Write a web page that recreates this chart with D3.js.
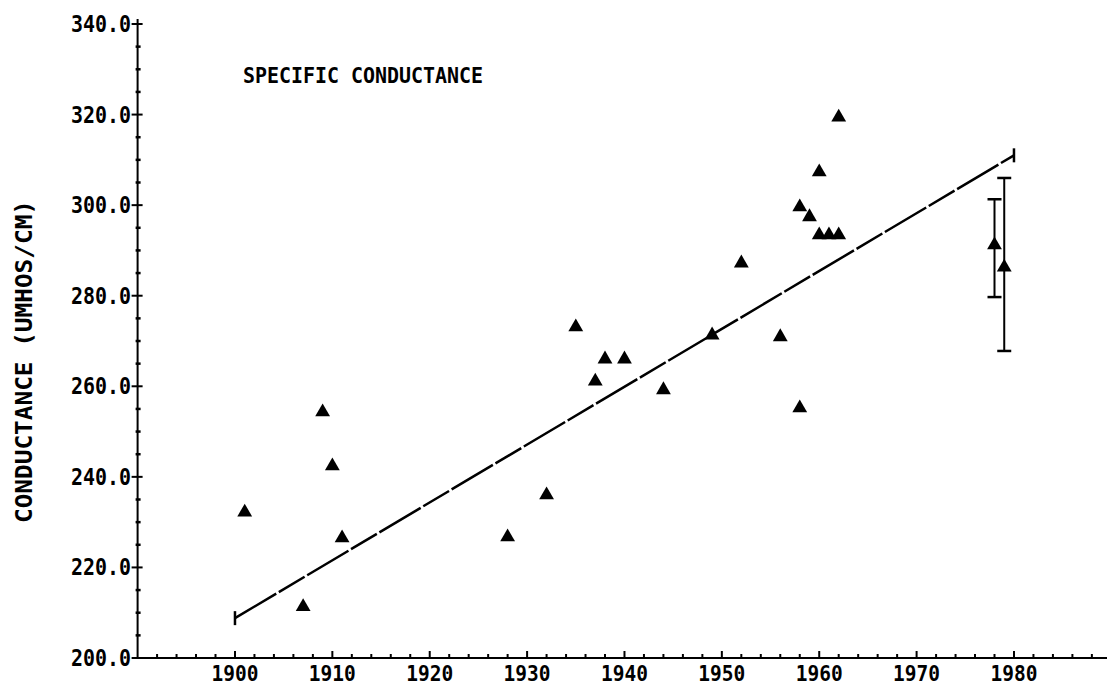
<!DOCTYPE html>
<html>
<head>
<meta charset="utf-8">
<script src="https://cdn.jsdelivr.net/npm/d3@7"></script>
<style>
  html, body { margin: 0; padding: 0; background: #fff; }
  svg { display: block; }
  text { font-family: "DejaVu Sans Mono", monospace; fill: #000; font-weight: bold; }
</style>
</head>
<body>
<svg id="chart" width="1107" height="691"></svg>
<script>
// ---- data ----
const pointYears  = [1901, 1907, 1909, 1910, 1911, 1928, 1932, 1935, 1937, 1938, 1940, 1944, 1949, 1952, 1956, 1958, 1958, 1959, 1960, 1960, 1961, 1962, 1962];
const pointValues = [232.2, 211.3, 254.3, 242.4, 226.5, 226.7, 236.0, 273.1, 261.1, 266.0, 266.0, 259.2, 271.3, 287.2, 270.9, 299.6, 255.2, 297.4, 307.3, 293.4, 293.4, 293.4, 319.4];

const errYears  = [1978, 1979];
const errValues = [291.2, 286.3];
const errLow    = [279.7, 267.8];
const errHigh   = [301.3, 306.0];

const trendYears  = [1900, 1980];
const trendValues = [208.8, 311.0];

const yTicks = [200, 220, 240, 260, 280, 300, 320, 340];
const yTickLabels = ["200.0", "220.0", "240.0", "260.0", "280.0", "300.0", "320.0", "340.0"];
const xTicks = [1900, 1910, 1920, 1930, 1940, 1950, 1960, 1970, 1980];
const xTickLabels = ["1900", "1910", "1920", "1930", "1940", "1950", "1960", "1970", "1980"];

const titleText = "SPECIFIC CONDUCTANCE";
const yLabelText = "CONDUCTANCE (UMHOS/CM)";

// ---- scales ----
const svg = d3.select("#chart");
const x = d3.scaleLinear().domain([1890, 1990]).range([137.6, 1111.35]);
const y = d3.scaleLinear().domain([200, 340]).range([658, 24]);

const ax = x(1890), by = y(200);

// ---- axes ----
const g = svg.append("g").attr("stroke", "#000").attr("fill", "none");
g.append("line").attr("x1", ax).attr("x2", ax).attr("y1", y(340) - 5).attr("y2", by).attr("stroke-width", 2);
g.append("line").attr("x1", ax).attr("x2", 1107).attr("y1", by).attr("y2", by).attr("stroke-width", 2);

d3.range(200, 341, 5).forEach(v => {
  const major = (v % 20 === 0);
  g.append("line")
    .attr("x1", major ? ax - 6 : ax - 2).attr("x2", major ? ax + 5 : ax + 3)
    .attr("y1", y(v)).attr("y2", y(v))
    .attr("stroke-width", major ? 2 : 2.5);
});
d3.range(1892, 1990, 2).forEach(t => {
  const major = (t % 10 === 0);
  g.append("line")
    .attr("x1", x(t)).attr("x2", x(t))
    .attr("y1", by).attr("y2", by - (major ? 7 : 4))
    .attr("stroke-width", 2);
});

// tick labels
const lab = svg.append("g");
yTicks.forEach((v, i) => {
  lab.append("text")
    .attr("x", 131).attr("y", y(v) + 8)
    .attr("text-anchor", "end")
    .attr("font-size", 23)
    .attr("textLength", 60).attr("lengthAdjust", "spacingAndGlyphs")
    .text(yTickLabels[i]);
});
xTicks.forEach((t, i) => {
  lab.append("text")
    .attr("x", x(t)).attr("y", 681)
    .attr("text-anchor", "middle")
    .attr("font-size", 22)
    .attr("textLength", 47).attr("lengthAdjust", "spacingAndGlyphs")
    .text(xTickLabels[i]);
});

lab.append("text")
  .attr("x", 243).attr("y", 83)
  .attr("font-size", 21)
  .attr("textLength", 240).attr("lengthAdjust", "spacingAndGlyphs")
  .text(titleText);

lab.append("text")
  .attr("transform", "translate(32,361.5) rotate(-90)")
  .attr("text-anchor", "middle")
  .attr("font-size", 23)
  .attr("textLength", 323).attr("lengthAdjust", "spacingAndGlyphs")
  .text(yLabelText);

// ---- trend line ----
const tg = svg.append("g").attr("stroke", "#000").attr("fill", "none");
tg.append("line")
  .attr("x1", x(trendYears[0])).attr("y1", y(trendValues[0]))
  .attr("x2", x(trendYears[1])).attr("y2", y(trendValues[1]))
  .attr("stroke-width", 2.5)
  .attr("stroke-dasharray", "48,3,30,3");
trendYears.forEach((t, i) => {
  tg.append("line")
    .attr("x1", x(t)).attr("x2", x(t))
    .attr("y1", y(trendValues[i]) - 7).attr("y2", y(trendValues[i]) + 7)
    .attr("stroke-width", 2.5);
});

// ---- error bars ----
const eg = svg.append("g").attr("stroke", "#000").attr("fill", "none").attr("stroke-width", 2);
errYears.forEach((t, i) => {
  const cx = x(t);
  eg.append("line").attr("x1", cx).attr("x2", cx).attr("y1", y(errHigh[i])).attr("y2", y(errLow[i]));
  [errHigh[i], errLow[i]].forEach(v => {
    eg.append("line").attr("x1", cx - 7).attr("x2", cx + 7).attr("y1", y(v)).attr("y2", y(v)).attr("stroke-width", 2.5);
  });
});

// ---- points ----
const tri = d3.symbol().type(d3.symbolTriangle).size(95);
const pts = pointYears.map((t, i) => ({ t, v: pointValues[i] }))
  .concat(errYears.map((t, i) => ({ t, v: errValues[i] })));
svg.append("g").selectAll("path").data(pts).join("path")
  .attr("d", tri)
  .attr("transform", d => `translate(${x(d.t)},${y(d.v)})`)
  .attr("fill", "#000");
</script>
</body>
</html>
